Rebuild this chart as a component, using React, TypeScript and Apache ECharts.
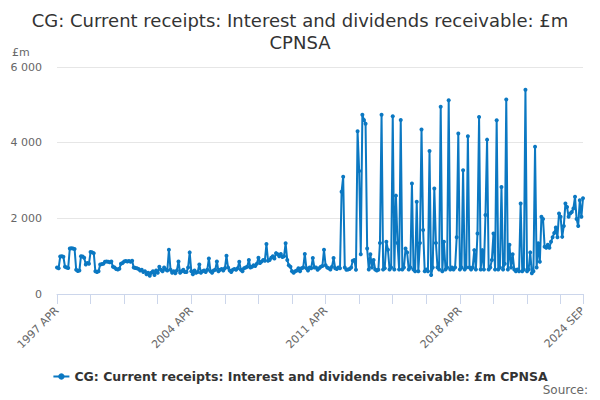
import { useEffect, useRef } from 'react';
import * as echarts from 'echarts';

const MONTHS = ['JAN', 'FEB', 'MAR', 'APR', 'MAY', 'JUN', 'JUL', 'AUG', 'SEP', 'OCT', 'NOV', 'DEC'];

// monthly, 1997 APR .. 2024 SEP, one row per April-March year
const receipts = [
  700, 680, 990, 1000, 985, 720, 700, 690, 1200, 1210, 1200, 1190,
  640, 610, 620, 1000, 990, 960, 780, 820, 800, 1110, 1100, 1080,
  600, 580, 600, 780, 790, 800, 850, 860, 850, 840, 860, 720,
  700, 660, 650, 670, 800, 820, 860, 870, 860, 870, 850, 880,
  700, 690, 680, 660, 620, 640, 580, 600, 520, 560, 480, 560,
  600, 500, 620, 560, 720, 640, 600, 700, 650, 620, 1170, 640,
  560, 600, 550, 620, 860, 560, 600, 640, 580, 580, 700, 1100,
  600, 520, 620, 560, 580, 780, 560, 600, 620, 580, 640, 940,
  600, 560, 620, 640, 860, 600, 640, 660, 620, 680, 1010, 700,
  620, 580, 640, 660, 640, 680, 850, 640, 600, 680, 700, 720,
  900, 700, 720, 760, 740, 800, 960, 820, 860, 900, 880, 1320,
  880, 900, 960, 1000, 940, 1080, 1050, 1000, 1060, 980, 1000, 1340,
  900, 760, 720, 600, 560, 600, 620, 680, 600, 680, 700, 1060,
  680, 620, 700, 680, 950, 700, 700, 640, 680, 720, 740, 1170,
  760, 700, 680, 650, 720, 950, 680, 660, 700, 680, 2700, 3100,
  700, 640, 650, 660, 700, 880, 900, 640, 4300, 3250, 1050, 4740,
  4600, 4500, 1200, 650, 1050, 700, 900, 650, 620, 640, 1350, 4740,
  650, 680, 1380, 1170, 650, 700, 4700, 650, 2600, 1350, 650, 4600,
  650, 700, 1200, 1100, 650, 700, 2920, 650, 600, 2440, 600, 1350,
  4350, 1690, 600, 650, 600, 3780, 500, 700, 2790, 1350, 700, 650,
  4950, 600, 1380, 650, 700, 5120, 650, 700, 650, 700, 1500, 4240,
  650, 700, 3270, 650, 700, 4170, 700, 650, 700, 1160, 650, 1600,
  4680, 650, 1160, 650, 2090, 4080, 650, 700, 900, 1600, 650, 4590,
  650, 700, 2830, 650, 800, 5140, 650, 1300, 700, 1050, 650, 600,
  650, 600, 2390, 600, 650, 5400, 600, 650, 1100, 550, 600, 3890,
  700, 1340, 850, 2040, 1980, 1250, 1220, 1300, 1220, 1380, 1500, 1610,
  1760, 1500, 2130, 2040, 1510, 1800, 2390, 2300, 2040, 2130, 2170, 2260,
  2570, 1980, 1800, 2480, 2040, 2530,
];

const categories = receipts.map((_, i) => {
  const m = 3 + i;
  return `${1997 + Math.floor(m / 12)} ${MONTHS[m % 12]}`;
});

const yTicks = [0, 2000, 4000, 6000];
const seriesName = 'CG: Current receipts: Interest and dividends receivable: £m CPNSA';
const FONT = '"DejaVu Sans", sans-serif';

const fmt = (v: number) => String(v).replace(/\B(?=(\d{3})+(?!\d))/g, ' ');

const App = () => {
  const chartRef = useRef<HTMLDivElement>(null);

  useEffect(() => {
    if (!chartRef.current) return;
    const chart = echarts.init(chartRef.current, null, { renderer: 'svg' });
    const last = categories.length - 1;

    chart.setOption({
      animation: false,
      textStyle: { fontFamily: FONT },
      title: {
        text: 'CG: Current receipts: Interest and dividends receivable: £m\nCPNSA',
        left: 'center',
        top: 4,
        textStyle: { fontFamily: FONT, fontSize: 18, fontWeight: 'normal', color: '#333', lineHeight: 22 },
      },
      graphic: [
        { type: 'text', left: 12, top: 47, style: { text: '£m', font: `11px ${FONT}`, fill: '#666' } },
        { type: 'text', right: 12, top: 384, style: { text: 'Source:', font: `12px ${FONT}`, fill: '#666' } },
      ],
      legend: {
        top: 365,
        left: 'center',
        itemWidth: 16,
        itemHeight: 8,
        itemGap: 10,
        textStyle: { fontFamily: FONT, fontSize: 12.5, fontWeight: 'bold', color: '#333' },
        data: [seriesName],
      },
      grid: { left: 57, right: 17, top: 67, bottom: 106, outerBoundsMode: 'none' },
      xAxis: {
        type: 'category',
        data: categories,
        boundaryGap: false,
        axisLine: { lineStyle: { color: '#ccd6eb' } },
        axisTick: {
          length: 10,
          lineStyle: { color: '#ccd6eb' },
          interval: (i: number) => i % 21 === 0 || i === last,
        },
        axisLabel: {
          rotate: 45,
          margin: 15,
          fontSize: 11,
          color: '#666',
          fontFamily: FONT,
          interval: (i: number) => i % 84 === 0 || i === last,
        },
      },
      yAxis: {
        type: 'value',
        min: yTicks[0],
        max: yTicks[yTicks.length - 1],
        interval: 2000,
        axisLine: { show: false },
        axisTick: { show: false },
        splitLine: { lineStyle: { color: '#e6e6e6' } },
        axisLabel: { margin: 15, fontSize: 11, color: '#666', fontFamily: FONT, formatter: fmt },
      },
      series: [
        {
          name: seriesName,
          type: 'line',
          data: receipts,
          color: '#0b78c2',
          lineStyle: { width: 2 },
          symbol: 'circle',
          symbolSize: 4,
          showSymbol: true,
          showAllSymbol: true,
        },
      ],
    });

    return () => chart.dispose();
  }, []);

  return (
    <div
      ref={chartRef}
      style={{ position: 'absolute', left: 0, top: 0, width: '600px', height: '400px', background: '#fff' }}
    />
  );
};

export default App;
